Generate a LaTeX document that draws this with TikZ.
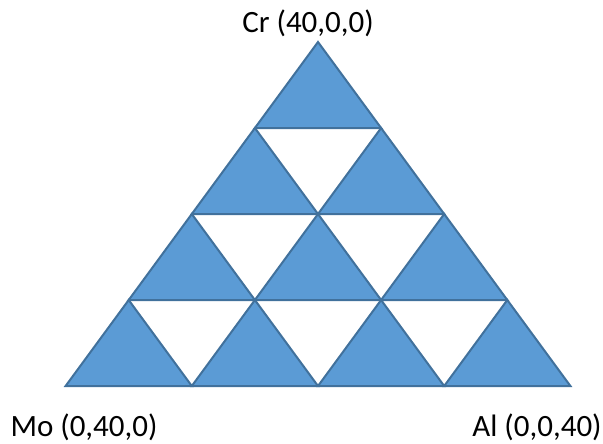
\documentclass[tikz,border=0pt]{standalone}
\usepackage{fontspec}
\setmainfont{Carlito}
\definecolor{tfill}{HTML}{5B9BD5}
\definecolor{tedge}{HTML}{41719C}
\tikzset{uptri/.style={fill=tfill,draw=tedge,line width=2pt,line join=miter},
  lbl/.style={anchor=base,font=\fontsize{31}{36}\selectfont,inner sep=0pt}}
\begin{document}
\begin{tikzpicture}[x=1pt,y=-1pt]
\useasboundingbox (0,0) rectangle (603,444);
\foreach \r in {1,...,4}{
  \pgfmathtruncatemacro{\rm}{\r-1}
  \foreach \j in {0,...,\rm}{
    \pgfmathsetmacro{\ax}{318+(2*\j-\rm)*63.1}
    \pgfmathsetmacro{\ay}{42+\rm*86}
    \pgfmathsetmacro{\by}{42+\r*86}
    \filldraw[uptri] (\ax,\ay) -- (\ax-63.1,\by) -- (\ax+63.1,\by) -- cycle;
  }
}
\node[lbl] (cr) at (308,33) {Cr (40,0,0)};
\node[lbl] (mo) at (84,436) {Mo (0,40,0)};
\node[lbl] (al) at (537,436) {Al (0,0,40)};
\end{tikzpicture}
\end{document}
